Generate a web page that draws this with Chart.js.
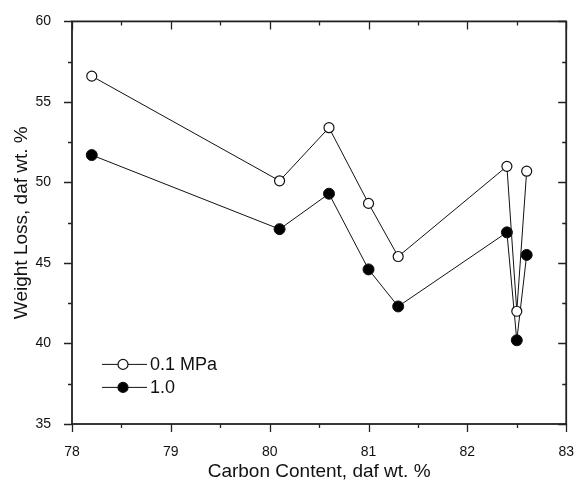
<!DOCTYPE html>
<html>
<head>
<meta charset="utf-8">
<script src="https://cdn.jsdelivr.net/npm/chart.js@4/dist/chart.umd.min.js"></script>
<style>
  html, body { margin: 0; padding: 0; background: #fff; }
  #wrap { width: 586px; height: 484px; }
</style>
</head>
<body>
<div id="wrap"><canvas id="lossChart" width="586" height="484"></canvas></div>
<script>
// data
const carbon = [78.2, 80.1, 80.6, 81.0, 81.3, 82.4, 82.5, 82.6];
const loss01 = [56.6, 50.1, 53.4, 48.7, 45.4, 51.0, 42.0, 50.7];
const loss10 = [51.7, 47.1, 49.3, 44.6, 42.3, 46.9, 40.2, 45.5];
const seriesNames = ['0.1 MPa', '1.0'];
const xTicks = [78, 79, 80, 81, 82, 83];
const yTicks = [35, 40, 45, 50, 55, 60];

const FONT = '"Liberation Sans", Arial, Helvetica, sans-serif';
const INK = '#111';

function toPoints(xs, ys) {
  return xs.map((x, i) => ({ x: x, y: ys[i] }));
}

// frame + major/minor ticks on all four sides, plus the line+marker legend
const framePlugin = {
  id: 'frame',
  afterDraw(chart) {
    const ctx = chart.ctx;
    const a = chart.chartArea;
    const xs = chart.scales.x;
    const ys = chart.scales.y;
    ctx.save();
    ctx.strokeStyle = '#222';
    ctx.lineWidth = 1.8;
    ctx.strokeRect(a.left, a.top, a.right - a.left, a.bottom - a.top);

    ctx.lineWidth = 1.3;
    ctx.beginPath();
    for (let v = xTicks[0]; v <= xTicks[xTicks.length - 1] + 1e-9; v += 0.5) {
      const px = Math.round(xs.getPixelForValue(v)) + 0.5;
      const len = Math.abs(v - Math.round(v)) < 1e-6 ? 8 : 4;
      ctx.moveTo(px, a.bottom); ctx.lineTo(px, a.bottom + len);
      ctx.moveTo(px, a.top); ctx.lineTo(px, a.top + len);
    }
    for (let v = yTicks[0]; v <= yTicks[yTicks.length - 1] + 1e-9; v += 2.5) {
      const py = Math.round(ys.getPixelForValue(v)) + 0.5;
      const len = Math.abs(v / 5 - Math.round(v / 5)) < 1e-6 ? 8 : 4;
      ctx.moveTo(a.left, py); ctx.lineTo(a.left - len, py);
      ctx.moveTo(a.right, py); ctx.lineTo(a.right - len, py);
    }
    ctx.stroke();

    // legend
    const lx = a.left + 30;
    const rows = [a.top + 343, a.top + 366];
    ctx.font = '18px ' + FONT;
    ctx.textBaseline = 'middle';
    ctx.fillStyle = INK;
    chart.data.datasets.forEach((ds, i) => {
      const y = rows[i];
      ctx.strokeStyle = INK;
      ctx.lineWidth = 1;
      ctx.beginPath();
      ctx.moveTo(lx, y); ctx.lineTo(lx + 45, y);
      ctx.stroke();
      ctx.beginPath();
      ctx.arc(lx + 21, y, 5, 0, Math.PI * 2);
      ctx.fillStyle = ds.pointBackgroundColor;
      ctx.fill();
      ctx.lineWidth = 1.2;
      ctx.stroke();
      ctx.fillStyle = INK;
      ctx.fillText(ds.label, lx + 48, y + 1);
    });
    ctx.restore();
  }
};

new Chart(document.getElementById('lossChart').getContext('2d'), {
  type: 'line',
  data: {
    datasets: [
      {
        label: seriesNames[0],
        data: toPoints(carbon, loss01),
        borderColor: INK,
        borderWidth: 1,
        pointRadius: 5,
        pointBorderWidth: 1.2,
        pointBorderColor: INK,
        pointBackgroundColor: '#fff',
        tension: 0
      },
      {
        label: seriesNames[1],
        data: toPoints(carbon, loss10),
        borderColor: INK,
        borderWidth: 1,
        pointRadius: 5.5,
        pointBorderWidth: 1,
        pointBorderColor: INK,
        pointBackgroundColor: '#000',
        tension: 0
      }
    ]
  },
  options: {
    responsive: false,
    animation: false,
    layout: { padding: { left: 0, right: 10, top: 18, bottom: 0 } },
    plugins: { legend: { display: false }, tooltip: { enabled: false } },
    scales: {
      x: {
        type: 'linear',
        min: xTicks[0],
        max: xTicks[xTicks.length - 1],
        afterBuildTicks: (s) => { s.ticks = xTicks.map(v => ({ value: v })); },
        afterFit: (s) => { s.height = 60; },
        grid: { display: false },
        border: { display: false },
        ticks: { padding: 12, color: INK, font: { family: FONT, size: 14 } },
        title: {
          display: true,
          text: 'Carbon Content, daf wt. %',
          color: INK,
          font: { family: FONT, size: 19 },
          padding: { top: 0, bottom: 1 }
        }
      },
      y: {
        type: 'linear',
        min: yTicks[0],
        max: yTicks[yTicks.length - 1],
        afterBuildTicks: (s) => { s.ticks = yTicks.map(v => ({ value: v })); },
        afterFit: (s) => { s.width = 72; },
        grid: { display: false },
        border: { display: false },
        ticks: { padding: 13, color: INK, font: { family: FONT, size: 14 } },
        title: {
          display: true,
          text: 'Weight Loss, daf wt. %',
          color: INK,
          font: { family: FONT, size: 19 },
          padding: { top: 10, bottom: 0 }
        }
      }
    }
  },
  plugins: [framePlugin]
});
</script>
</body>
</html>
